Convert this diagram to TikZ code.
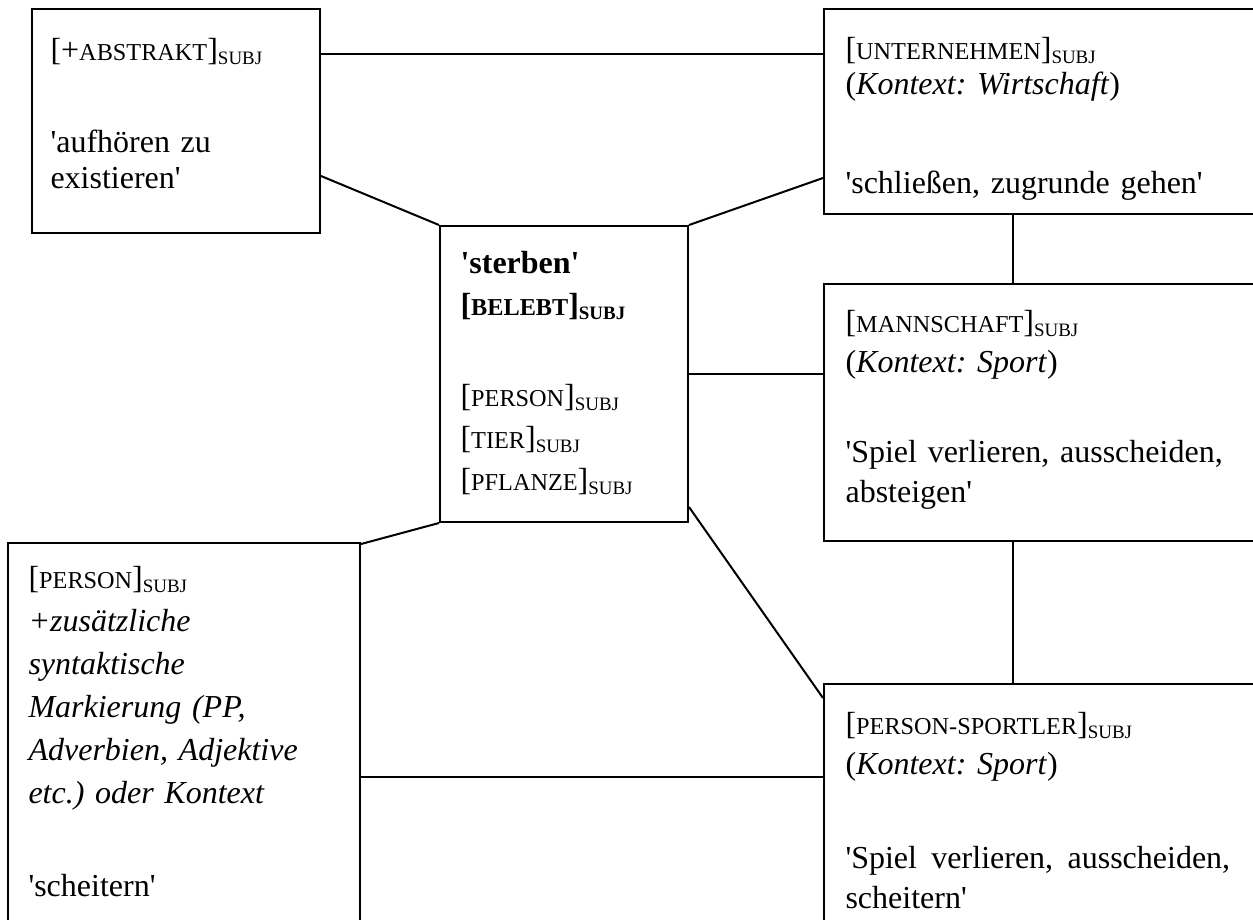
\documentclass[tikz,border=0pt]{standalone}
\usepackage{fontspec}
\setmainfont{Liberation Serif}
\usetikzlibrary{calc}
\frenchspacing
\newcommand\pxu{0.375pt}
\newcommand\q{\textquotesingle}
\newcommand\fsc[1]{{\fontsize{9.1}{10}\selectfont #1}}
\newcommand\subj{\raisebox{-1.6pt}{\fontsize{7.1}{7}\selectfont SUBJ}}
\newcommand\feat[1]{[\fsc{#1}]\subj}
\tikzset{
  sense/.style={draw, line width=0.75pt, anchor=north west, inner sep=0pt},
  sensetext/.style={anchor=base west, inner sep=0pt, align=left, text width={420*\pxu}},
  link/.style={line width=0.75pt}
}
\begin{document}
\begin{tikzpicture}[x=\pxu, y=-\pxu]
  \useasboundingbox (0,0) rectangle (1253,919);
  \clip (0,0) rectangle (1253,919);

  % Kaesten
  \node[sense, minimum width={288*\pxu}, minimum height={224*\pxu}] (abstr) at (31,8) {};
  \node[sense, minimum width={248*\pxu}, minimum height={296*\pxu}] (sterb) at (439,225) {};
  \node[sense, minimum width={450*\pxu}, minimum height={205*\pxu}] (unter) at (823,8) {};
  \node[sense, minimum width={450*\pxu}, minimum height={257*\pxu}] (mann) at (823,283) {};
  \node[sense, minimum width={450*\pxu}, minimum height={300*\pxu}] (pers) at (823,683) {};
  \node[sense, minimum width={352*\pxu}, minimum height={400*\pxu}] (left) at (7,542) {};

  % Texte
  \node[sensetext, font=\fontsize{12}{13.5}\selectfont] (abstrtext) at (50,60)
    {[+\fsc{ABSTRAKT}]\subj\\[21pt] \q aufhören zu\\ existieren\q};
  \node[sensetext, font=\fontsize{12}{15.75}\selectfont] (sterbtext) at (460,273)
    {\textbf{\q sterben\q}\\ \textbf{\feat{BELEBT}}\\[18.4pt] \feat{PERSON}\\ \feat{TIER}\\ \feat{PFLANZE}};
  \node[sensetext, font=\fontsize{12}{13.125}\selectfont] (untertext) at (845,59)
    {\feat{UNTERNEHMEN}\\ (\textit{Kontext: Wirtschaft})\\[24pt] \q schließen, zugrunde gehen\q};
  \node[sensetext, font=\fontsize{12}{15}\selectfont] (manntext) at (845,332)
    {\feat{MANNSCHAFT}\\ (\textit{Kontext: Sport})\\[19.1pt] \q Spiel verlieren, ausscheiden,\\ absteigen\q};
  \node[sensetext, font=\fontsize{12}{15}\selectfont] (perstext) at (845,734)
    {\feat{PERSON-SPORTLER}\\ (\textit{Kontext: Sport})\\[20.6pt] \q Spiel\hspace{5.4pt}verlieren,\hspace{5.4pt}ausscheiden,\\ scheitern\q};
  \node[sensetext, font=\fontsize{12}{16.125}\selectfont] (lefttext) at (28,588)
    {\feat{PERSON}\\ \textit{+zusätzliche}\\ \textit{syntaktische}\\ \textit{Markierung (PP,}\\
     \textit{Adverbien, Adjektive}\\ \textit{etc.) oder Kontext}\\[19.1pt] \q scheitern\q};

  % Verbindungen
  \draw[link] ($(abstr.north east)+(0,46)$) -- ($(unter.north west)+(0,46)$);
  \draw[link] ($(abstr.north east)+(0,168)$) -- (sterb.north west);
  \draw[link] (sterb.north east) -- ($(unter.north west)+(0,170)$);
  \draw[link] ($(unter.south west)+(190,0)$) -- ($(mann.north west)+(190,0)$);
  \draw[link] (sterb.east) -- (sterb.east -| mann.west);
  \draw[link] ($(mann.south west)+(190,0)$) -- ($(pers.north west)+(190,0)$);
  \draw[link] ($(sterb.south east)+(0,-16)$) -- ($(pers.north west)+(0,15)$);
  \draw[link] (sterb.south west) -- ($(left.north east)+(0,2)$);
  \draw[link] ($(left.north east)+(0,235)$) -- ($(pers.north west)+(0,94)$);
\end{tikzpicture}
\end{document}
